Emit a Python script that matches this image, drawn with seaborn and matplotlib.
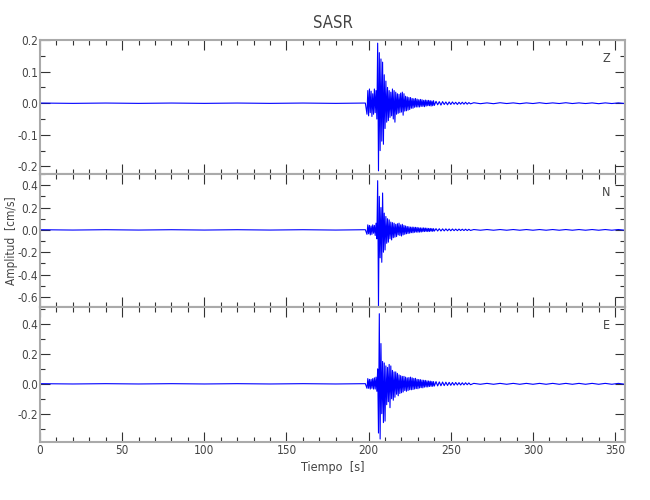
import numpy as np
import pandas as pd
import seaborn as sns
import matplotlib
matplotlib.use('Agg')
from matplotlib import pyplot as plt
from matplotlib.ticker import MultipleLocator, FormatStrFormatter

# station and components
station = 'SASR'
components = ['Z', 'N', 'E']

# sample times (s): quiet part, strong motion, coda, tail
t_pre = [0, 20, 40, 60, 80, 100, 120, 140, 160, 180, 198]
t_fast = np.arange(199.0, 240.01, 0.5)
t_mid = np.arange(241, 263, 1)
t_tail = np.arange(264, 357, 4)

# amplitudes (cm/s)
z_pre = [0.0005, -0.0005, 0.0005, -0.0005, 0.0005, -0.0005, 0.0005, -0.0005, 0.0005, -0.0005, 0.0005]
z_fast = [-0.035, 0.04, -0.04, 0.045, -0.03, 0.038, -0.042, 0.03, -0.035, 0.045,
          -0.03, 0.04, -0.05, 0.19, -0.214, 0.16, -0.15, 0.14, -0.12, 0.13,
          -0.13, 0.09, -0.08, 0.07, -0.06, 0.05, -0.055, 0.04, -0.045, 0.035,
          -0.04, 0.045, -0.05, 0.04, -0.06, 0.035, -0.035, 0.03, -0.032, 0.028,
          -0.03, 0.032, -0.028, 0.035, -0.038, 0.03, -0.025, 0.022, -0.024, 0.02,
          -0.022, 0.018, -0.02, 0.018, -0.016,
          0.015, -0.016, 0.014, -0.013, 0.015, -0.012, 0.013, -0.012, 0.011, -0.012,
          0.012, -0.01, 0.011, -0.01, 0.009, -0.011, 0.01, -0.009, 0.009, -0.008,
          0.009, -0.008, 0.008, -0.009, 0.007, -0.008, 0.008, -0.007]
z_mid = [0.006, -0.005, 0.005, -0.006, 0.005, -0.004, 0.004, -0.005, 0.004, -0.004,
         0.004, -0.003, 0.003, -0.004, 0.003, -0.003, 0.003, -0.003, 0.003, -0.003,
         0.002, -0.002]
z_tail = [0.0015, -0.0015, 0.001, -0.0015, 0.0015, -0.001, 0.001, -0.0015, 0.001, -0.001, 0.0015, -0.001,
          0.001, -0.001, 0.0015, -0.001, 0.001, -0.001, 0.001, -0.0015, 0.001, -0.001, 0.001, -0.001]

n_pre = [0.0015, -0.0015, 0.0015, -0.0015, 0.0015, -0.0015, 0.0015, -0.0015, 0.0015, -0.0015, 0.0015]
n_fast = [-0.04, 0.045, -0.035, 0.04, -0.045, 0.035, -0.04, 0.045, -0.03, 0.04,
          -0.05, 0.06, -0.08, 0.44, -0.69, 0.3, -0.25, 0.2, -0.29, 0.33,
          -0.2, 0.15, -0.18, 0.12, -0.12, 0.1, -0.11, 0.09, -0.08, 0.07,
          -0.09, 0.065, -0.07, 0.06, -0.065, 0.05, -0.06, 0.055, -0.045, 0.06,
          -0.05, 0.045, -0.055, 0.05, -0.045, 0.04, -0.04, 0.035, -0.035, 0.03,
          -0.032, 0.028, -0.03, 0.025, -0.025,
          0.025, -0.026, 0.024, -0.022, 0.023, -0.02, 0.022, -0.021, 0.019, -0.02,
          0.018, -0.019, 0.017, -0.016, 0.018, -0.015, 0.016, -0.014, 0.015, -0.015,
          0.013, -0.014, 0.013, -0.012, 0.012, -0.013, 0.011, -0.011]
n_mid = [0.011, -0.01, 0.01, -0.01, 0.009, -0.009, 0.009, -0.008, 0.008, -0.008,
         0.008, -0.007, 0.007, -0.007, 0.007, -0.006, 0.006, -0.006, 0.006, -0.006,
         0.005, -0.005]
n_tail = [0.003, -0.003, 0.003, -0.003, 0.003, -0.003, 0.003, -0.003, 0.003, -0.003, 0.003, -0.003,
          0.003, -0.003, 0.003, -0.003, 0.003, -0.003, 0.003, -0.003, 0.003, -0.003, 0.003, -0.003]

e_pre = [0.001, -0.001, 0.001, -0.001, 0.001, -0.001, 0.001, -0.001, 0.001, -0.001, 0.001]
e_fast = [-0.03, 0.035, -0.03, 0.03, -0.035, 0.03, -0.03, 0.035, -0.035, 0.04,
          -0.035, 0.045, -0.05, 0.1, -0.33, 0.47, -0.37, 0.27, -0.2, 0.15,
          -0.26, 0.14, -0.25, 0.12, -0.14, 0.11, -0.12, 0.13, -0.16, 0.12,
          -0.1, 0.09, -0.11, 0.08, -0.09, 0.08, -0.07, 0.07, -0.08, 0.06,
          -0.065, 0.055, -0.06, 0.05, -0.055, 0.05, -0.045, 0.045, -0.05, 0.04,
          -0.045, 0.042, -0.04, 0.045, -0.04,
          0.04, -0.038, 0.036, -0.035, 0.037, -0.032, 0.03, -0.033, 0.029, -0.028,
          0.028, -0.026, 0.025, -0.027, 0.024, -0.022, 0.023, -0.021, 0.02, -0.021,
          0.019, -0.018, 0.018, -0.017, 0.016, -0.017, 0.015, -0.015]
e_mid = [0.015, -0.014, 0.013, -0.013, 0.012, -0.012, 0.011, -0.011, 0.01, -0.01,
         0.009, -0.009, 0.009, -0.008, 0.008, -0.008, 0.007, -0.007, 0.007, -0.006,
         0.006, -0.006]
e_tail = [0.003, -0.003, 0.003, -0.003, 0.003, -0.003, 0.003, -0.003, 0.003, -0.003, 0.003, -0.003,
          0.003, -0.003, 0.003, -0.003, 0.003, -0.003, 0.003, -0.003, 0.003, -0.003, 0.003, -0.003]

time = np.concatenate([t_pre, t_fast, t_mid, t_tail])
traces = {
    'Z': np.concatenate([z_pre, z_fast, z_mid, z_tail]),
    'N': np.concatenate([n_pre, n_fast, n_mid, n_tail]),
    'E': np.concatenate([e_pre, e_fast, e_mid, e_tail]),
}

ylims = {'Z': (-0.224, 0.2), 'N': (-0.69, 0.5), 'E': (-0.39, 0.515)}
ymajor = {'Z': 0.1, 'N': 0.2, 'E': 0.2}
yminor = {'Z': 0.05, 'N': 0.1, 'E': 0.1}

sns.set_style('white')
plt.rcParams['font.family'] = ['DejaVu Sans']
plt.rcParams['font.stretch'] = 'condensed'
text_col = '#444444'
frame_col = '#aaaaaa'

fig = plt.figure(figsize=(6.5, 5), dpi=100)
# panel boxes (left, bottom, width, height) in figure fraction
boxes = [(0.0615, 0.652, 0.9, 0.268), (0.0615, 0.386, 0.9, 0.266), (0.0615, 0.116, 0.9, 0.27)]

axes = []
for comp, box in zip(components, boxes):
    ax = fig.add_axes(box)
    df = pd.DataFrame({'t': time, 'amp': traces[comp]})
    sns.lineplot(data=df, x='t', y='amp', ax=ax, color='#0000ff', lw=0.8,
                 estimator=None, sort=False)
    ax.set_xlim(0, 356)
    ax.set_ylim(*ylims[comp])
    ax.xaxis.set_major_locator(MultipleLocator(50))
    ax.xaxis.set_minor_locator(MultipleLocator(10))
    ax.yaxis.set_major_locator(MultipleLocator(ymajor[comp]))
    ax.yaxis.set_minor_locator(MultipleLocator(yminor[comp]))
    ax.yaxis.set_major_formatter(FormatStrFormatter('%.1f'))
    ax.tick_params(which='both', direction='in', top=True, right=True, bottom=True, left=True,
                   color='#333333', labelcolor=text_col, labelsize=8.5, width=0.8, pad=1.5)
    ax.tick_params(which='major', length=7)
    ax.tick_params(which='minor', length=3.5)
    for s in ax.spines.values():
        s.set_color(frame_col)
        s.set_linewidth(1.5)
    ax.set_xlabel('')
    ax.set_ylabel('')
    ax.text(0.968, 0.86, comp, transform=ax.transAxes, ha='center', va='center',
            fontsize=9, color=text_col)
    if comp != 'E':
        ax.tick_params(labelbottom=False)
    axes.append(ax)

axes[-1].set_xlabel('Tiempo  [s]', fontsize=9, color=text_col, labelpad=3)
fig.text(0.017, 0.518, 'Amplitud  [cm/s]', rotation=90, ha='center', va='center',
         fontsize=8.5, color=text_col)
fig.text(0.5115, 0.955, station, ha='center', va='center', fontsize=12, color=text_col)

fig.savefig('out.png', dpi=100)
